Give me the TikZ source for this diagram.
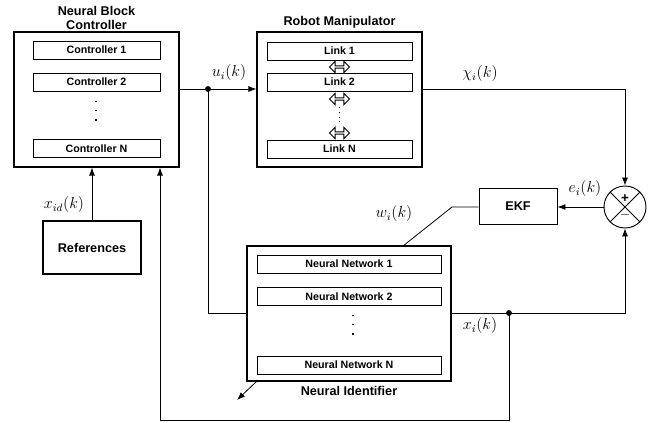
\documentclass[tikz,border=0pt]{standalone}
\usepackage{fontspec}
\setsansfont{Liberation Sans}
\usetikzlibrary{arrows.meta,shapes.arrows}

\begin{document}
\begin{tikzpicture}[x=0.75pt,y=0.75pt,yscale=-1,xscale=1,
	blk/.style={draw,line width=0.9pt,inner sep=0pt},
	sub/.style={draw,line width=0.6pt,inner sep=0pt,minimum height=13.5pt,font=\sffamily\bfseries\fontsize{8}{9}\selectfont},
	ttl/.style={inner sep=1.5pt,align=center,font=\sffamily\bfseries\fontsize{9.5}{10.5}\selectfont},
	lnk/.style={double arrow,draw,fill=white,line width=0.7pt,minimum height=15pt,minimum width=8.5pt,inner sep=0.5pt,double arrow head extend=3.4pt,double arrow head indent=0pt},
	sig/.style={line width=0.6pt},
	arr/.style={line width=0.6pt,-{Latex[length=6pt,width=4.5pt]}},
	lbl/.style={inner sep=0.75pt,font=\large}]
				\path (0,0) rectangle (660,423); %picture frame
				
				%Shape: Neural Block Controller
				\node [blk,minimum width=123.75pt,minimum height=101.25pt] (ctrl) at (96.5,99.5) {};
				\node [ttl,anchor=south] (ctrlttl) at (ctrl.north) {Neural Block\\Controller};
				\node [sub,minimum width=95.25pt] (c1) at (96.5,50) {Controller 1};
				\node [sub,minimum width=95.25pt] (c2) at (96.5,82) {Controller 2};
				\node [sub,minimum width=95.25pt] (cn) at (96.5,148.5) {Controller N};
				\draw [line width=1pt,dash pattern={on 0.9pt off 6pt}] (96,101) -- (96,126);
				
				%Shape: Robot Manipulator
				\node [blk,minimum width=123.75pt,minimum height=101.25pt] (robot) at (339.5,99.5) {};
				\node [ttl,anchor=south,inner sep=2.5pt] (robttl) at (robot.north) {Robot Manipulator};
				\node [sub,minimum width=108.75pt] (l1) at (339.5,51) {Link 1};
				\node [sub,minimum width=108.75pt] (l2) at (339.5,82) {Link 2};
				\node [sub,minimum width=108.75pt] (ln) at (339.5,149) {Link N};
				\draw [line width=0.6pt,dash pattern={on 0.6pt off 3pt}] (339.5,107) -- (339.5,126);
				\node [lnk] (j12) at (339.5,67) {};
				\node [lnk] (j2) at (339.5,99) {};
				\node [lnk] (jn) at (339.5,133) {};
				
				%Shape: Neural Identifier
				\node [blk,minimum width=153pt,minimum height=101.25pt] (ident) at (349,313.5) {};
				\node [ttl,anchor=north,inner sep=3pt] (idttl) at (ident.south) {Neural Identifier};
				\node [sub,minimum width=138pt] (nn1) at (349,264) {Neural Network 1};
				\node [sub,minimum width=138pt] (nn2) at (349,296.5) {Neural Network 2};
				\node [sub,minimum width=138pt] (nnn) at (349,365) {Neural Network N};
				\draw [line width=1pt,dash pattern={on 0.9pt off 6pt}] (353,315) -- (353,340);
				
				%Shape: References, EKF, sum
				\node [blk,minimum width=73.5pt,minimum height=39.75pt,font=\sffamily\bfseries\fontsize{9.5}{10.5}\selectfont] (refs) at (92,247.5) {References};
				\node [blk,line width=0.7pt,minimum width=58.5pt,minimum height=27pt,font=\sffamily\bfseries\fontsize{9.5}{10.5}\selectfont] (ekf) at (518,206.5) {EKF};
				\node [draw,circle,line width=0.7pt,minimum size=31.5pt,inner sep=0pt] (sum) at (625,207) {};
				\draw [sig] (sum.north west) -- (sum.south east) (sum.north east) -- (sum.south west);
				\node [inner sep=0pt,font=\sffamily\bfseries] (plus) at ([yshift=-6pt]sum.center) {+};
				\node [inner sep=0pt,font=\sffamily\bfseries] (minus) at ([yshift=6.5pt]sum.center) {$-$};
				
				%Connectors
				\coordinate (ud) at (208,89);
				\coordinate (xd) at (509,313);
				\coordinate (wb) at (452,207);
				\coordinate (wk) at (403,246);
				\coordinate (fb) at (160,420);
				\coordinate (out) at (237,400);
				\draw [sig] (ctrl.east |- ud) -- (ud);
				\draw [arr] (ud) -- (robot.west |- ud);
				\draw [sig] (ud) |- (ident.west);
				\draw [arr] (robot.east |- ud) -| (sum.north);
				\draw [arr] (sum.west) -- (ekf.east |- sum.west);
				\draw [sig] (ekf.west |- wb) -- (wb) -- (wk);
				\draw [arr] (ident.east |- xd) -| (sum.south);
				\draw [arr] (xd) |- (fb) -- (ctrl.south -| fb);
				\draw [arr] (refs.north) -- (ctrl.south -| refs.north);
				\draw [arr] (ident.south west) ++(10,0) -- (out);
				\fill (ud) circle (2.2pt) (xd) circle (2.2pt);
				
				% Text Node
				\node [lbl] (uk) at (229,73) {$u_i(k)$};
				% Text Node
				\node [lbl] (chik) at (480,74) {$\chi_i(k)$};
				% Text Node
				\node [lbl] (ek) at (585,189) {$e_i(k)$};
				% Text Node
				\node [lbl] (wkl) at (394,214) {$w_i(k)$};
				% Text Node
				\node [lbl] (xk) at (480,326) {$x_i(k)$};
				% Text Node
				\node [lbl] (xdk) at (64,205) {$x_{id}(k)$};
				
			\end{tikzpicture}
\end{document}
